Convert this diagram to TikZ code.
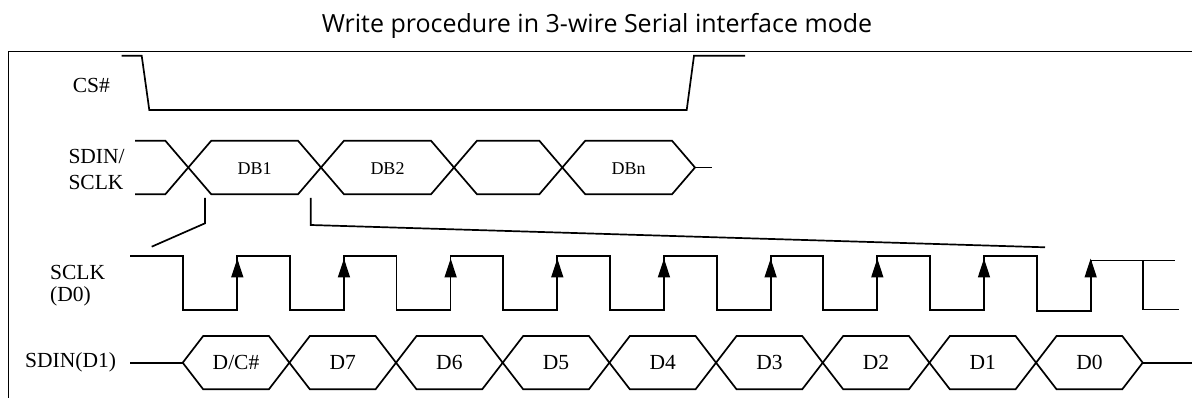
\documentclass[tikz,border=0pt]{standalone}
\usepackage{fontspec}
\setmainfont{Liberation Serif}
\newfontfamily\titlefont{Open Sans}
\usetikzlibrary{arrows.meta}

\tikzset{
  wave/.style={line width=1.7pt, line join=miter},
  signame/.style={font=\fontsize{21.5}{26}\selectfont, align=left, anchor=west, inner sep=0pt},
  bitname/.style={font=\fontsize{21.5}{24}\selectfont, anchor=base, inner sep=0pt},
  bytename/.style={font=\fontsize{18}{20}\selectfont, anchor=base, inner sep=0pt},
  clkedge/.style={line width=1.7pt, -{Triangle[length=19pt,width=12pt]}},
}

\begin{document}
\begin{tikzpicture}[x=1pt,y=-1pt]
  \pgfmathsetmacro{\per}{106.67} % one SCLK period
  \pgfmathsetmacro{\slb}{20.5}   % slant of a bit
  \pgfmathsetmacro{\sly}{23}     % slant of a byte

  \fill[white] (0,0) rectangle (1192,398);
  \useasboundingbox (0,0) rectangle (1192,398);

  \node[font={\titlefont\fontsize{25}{30}\selectfont}, anchor=base, inner sep=0pt] (title) at (597,32.3) {Write procedure in 3-wire Serial interface mode};
  \draw[line width=1.5pt] (8.3,400) -- (8.3,51.5) -- (1192,51.5);

  % signal names
  \node[signame] (csname) at (72.7,85.2) {CS\#};
  \node[signame] (busname) at (68.3,169.7) {SDIN/\\SCLK};
  \node[signame, font=\fontsize{21.5}{22.5}\selectfont] (clkname) at (50,285.6) {SCLK\\(D0)};
  \node[signame] (dinname) at (25,362.7) {SDIN(D1)};

  % CS#
  \draw[wave] (121.7,55.7) -- (141.7,55.7) -- (149.3,110) -- (686.7,110) -- (694,55.7) -- (745,55.7);

  % SDIN/SCLK bytes
  \draw[wave] (135,140.7) -- (188.3-\sly,140.7) -- (188.3,167.5);
  \draw[wave] (135,194.3) -- (188.3-\sly,194.3) -- (188.3,167.5);
  \foreach \xl/\xr/\lbl [count=\i] in {188.3/321/DB1, 321/454/DB2, 454/562.3/{}, 562.3/695/DBn} {
    \draw[wave] (\xl,167.5) -- (\xl+\sly,140.7) -- (\xr-\sly,140.7) -- (\xr,167.5) -- (\xr-\sly,194.3) -- (\xl+\sly,194.3) -- cycle;
    \node[bytename] (byte\i) at ({(\xl+\xr)/2},175) {\lbl};
  }
  \draw[wave] (695,167.5) -- (711.7,167.5);

  % DB1 opened out
  \draw[wave] (205,198) -- (205,223.3) -- (151.7,246.7);
  \draw[wave] (310.7,198) -- (310.7,225) -- (1045,247.3);

  % SCLK (D0)
  \draw[wave] (130,256) foreach \k in {0,...,7} {
      -- ({183.3+\k*\per},256) -- ({183.3+\k*\per},310) -- ({237.3+\k*\per},310) -- ({237.3+\k*\per},256) }
    -- (1036.7,256) -- (1036.7,311) -- (1090.7,311) -- (1090.7,260.5) -- (1175,260.5);
  \draw[wave] (1143.3,260.5) -- (1143.3,309.5) -- (1179.3,309.5);
  \foreach \k in {0,...,8}
    \draw[clkedge] ({237.3+\k*\per},295) -- ({237.3+\k*\per},258.5);

  % SDIN (D1)
  \draw[wave] (130,362.7) -- (182.7,362.7);
  \foreach \lbl [count=\k from 0] in {{D/C\#},D7,D6,D5,D4,D3,D2,D1,D0} {
    \pgfmathsetmacro{\xl}{182.7+\k*\per}
    \pgfmathsetmacro{\xr}{\xl+\per}
    \draw[wave] (\xl,362.7) -- (\xl+\slb,336) -- (\xr-\slb,336) -- (\xr,362.7) -- (\xr-\slb,389.3) -- (\xl+\slb,389.3) -- cycle;
    \node[bitname] (bit\k) at ({(\xl+\xr)/2},369.5) {\lbl};
  }
  \draw[wave] (1142,362.7) -- (1192,362.7);
\end{tikzpicture}
\end{document}
